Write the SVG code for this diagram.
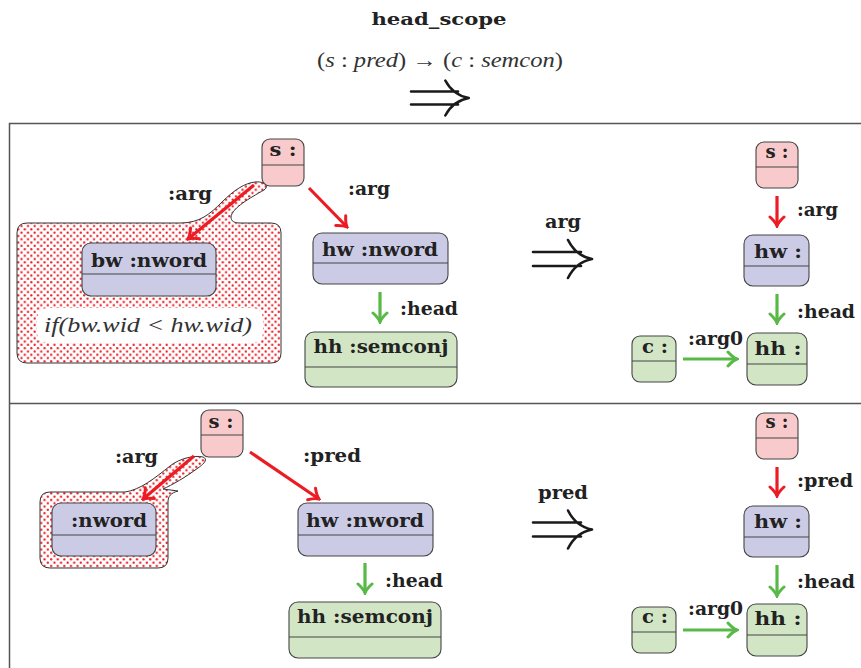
<svg xmlns="http://www.w3.org/2000/svg" width="861" height="668" viewBox="0 0 861 668">
<style>
.lbl{font-family:"DejaVu Serif","Liberation Serif",serif;font-weight:bold;font-size:19px;fill:#222}
.ttl{font-family:"DejaVu Serif","Liberation Serif",serif;font-weight:bold;font-size:17px;fill:#222}
.math{font-family:"Liberation Serif","DejaVu Serif",serif;font-size:20px;fill:#333}
.it{font-style:italic}
.dbl{fill:none;stroke:#1a1a1a;stroke-width:2.6;stroke-linecap:round}
.n{stroke:#444;stroke-width:1.1}
.pink{fill:#f9cacb}
.lav{fill:#cccbe6}
.grn{fill:#d2e6c6}
.div{stroke:#444;stroke-width:1.1}
.red{stroke:#ec1c24;stroke-width:3.2;fill:none}
.green{stroke:#58b947;stroke-width:3.2;fill:none}
.blob{fill:url(#dots);stroke:#333;stroke-width:1}
.frame{stroke:#555;stroke-width:1.5;fill:none}
</style>
<defs>
<pattern id="dots" width="6.6" height="6.6" patternUnits="userSpaceOnUse">
<rect width="6.6" height="6.6" fill="#fff"/>
<circle cx="1.65" cy="1.65" r="1.15" fill="#ec1c24"/>
<circle cx="4.95" cy="4.95" r="1.15" fill="#ec1c24"/>
</pattern>
<marker id="ar" viewBox="-12 -9 14 18" markerWidth="14" markerHeight="18" refX="0" refY="0" orient="auto" markerUnits="userSpaceOnUse">
<path d="M-9,-7 Q-4,-1.5 0,0 Q-4,1.5 -9,7" fill="none" stroke="#ec1c24" stroke-width="3" stroke-linecap="round"/>
</marker>
<marker id="ag" viewBox="-12 -9 14 18" markerWidth="14" markerHeight="18" refX="0" refY="0" orient="auto" markerUnits="userSpaceOnUse">
<path d="M-9,-7 Q-4,-1.5 0,0 Q-4,1.5 -9,7" fill="none" stroke="#58b947" stroke-width="3" stroke-linecap="round"/>
</marker>
<path id="dblarrow" d="M0,-7 H48 M0,7 H48 M35,-19 Q43,-3 59,0 M35,19 Q43,3 59,0"/>
</defs>

<g id="header">
<text class="ttl" x="439" y="25" text-anchor="middle" textLength="135" lengthAdjust="spacingAndGlyphs">head_scope</text>
<text class="math" x="440" y="67" text-anchor="middle" textLength="246" lengthAdjust="spacingAndGlyphs">(<tspan class="it">s</tspan> : <tspan class="it">pred</tspan>) → (<tspan class="it">c</tspan> : <tspan class="it">semcon</tspan>)</text>
<use href="#dblarrow" class="dbl" transform="translate(411,98) scale(0.98,0.92)"/>
</g>

<g id="frame">
<path class="frame" d="M861,123.5 H9.5 V668"/>
<line class="frame" x1="9.5" y1="403.5" x2="861" y2="403.5"/>
</g>

<!-- top panel -->
<g id="top-scope">
<path class="blob" d="M27,223 L180,223 C200,223 210,214 222,202 C234,190 245,183 255,182 C264,181 270,186 264,190 C250,198 232,208 231,217 C231,221 234,223 240,223 L271,223 Q281,223 281,233 L281,353 Q281,363 271,363 L27,363 Q17,363 17,353 L17,233 Q17,223 27,223 Z"/>
<rect x="37" y="308" width="226" height="35" rx="10" fill="#fff"/>
<text class="math it" x="148" y="332" text-anchor="middle" textLength="208" lengthAdjust="spacingAndGlyphs">if(bw.wid &lt; hw.wid)</text>
</g>
<g id="top-s">
<rect class="n pink" x="262" y="139" width="42" height="47" rx="8"/>
<line class="div" x1="262" y1="165" x2="304" y2="165"/>
<text class="lbl" x="283" y="156" text-anchor="middle" textLength="27" lengthAdjust="spacingAndGlyphs">s :</text>
</g>
<g id="top-bw">
<rect class="n lav" x="82" y="243" width="134" height="53" rx="9"/>
<line class="div" x1="82" y1="274" x2="216" y2="274"/>
<text class="lbl" x="149" y="267" text-anchor="middle" textLength="116" lengthAdjust="spacingAndGlyphs">bw :nword</text>
</g>
<g id="top-hw">
<rect class="n lav" x="313" y="233" width="135" height="51" rx="9"/>
<line class="div" x1="313" y1="263" x2="448" y2="263"/>
<text class="lbl" x="380" y="256" text-anchor="middle" textLength="116" lengthAdjust="spacingAndGlyphs">hw :nword</text>
</g>
<g id="top-hh">
<rect class="n grn" x="305" y="332" width="152" height="55" rx="9"/>
<line class="div" x1="305" y1="367" x2="457" y2="367"/>
<text class="lbl" x="381" y="353" text-anchor="middle" textLength="135" lengthAdjust="spacingAndGlyphs">hh :semconj</text>
</g>
<g id="top-rs">
<rect class="n pink" x="756" y="142" width="42" height="46" rx="8"/>
<line class="div" x1="756" y1="167" x2="798" y2="167"/>
<text class="lbl" x="777" y="158" text-anchor="middle" textLength="23" lengthAdjust="spacingAndGlyphs">s :</text>
</g>
<g id="top-rhw">
<rect class="n lav" x="744" y="235" width="65" height="51" rx="9"/>
<line class="div" x1="744" y1="266" x2="809" y2="266"/>
<text class="lbl" x="778" y="258" text-anchor="middle" textLength="48" lengthAdjust="spacingAndGlyphs">hw :</text>
</g>
<g id="top-rhh">
<rect class="n grn" x="747" y="333" width="60" height="52" rx="9"/>
<line class="div" x1="747" y1="364" x2="807" y2="364"/>
<text class="lbl" x="778" y="355" text-anchor="middle" textLength="47" lengthAdjust="spacingAndGlyphs">hh :</text>
</g>
<g id="top-rc">
<rect class="n grn" x="632" y="336" width="44" height="46" rx="8"/>
<line class="div" x1="632" y1="361" x2="676" y2="361"/>
<text class="lbl" x="655" y="353" text-anchor="middle" textLength="26" lengthAdjust="spacingAndGlyphs">c :</text>
</g>
<g id="top-rule">
<text class="lbl" x="563" y="228" text-anchor="middle" textLength="36" lengthAdjust="spacingAndGlyphs">arg</text>
<use href="#dblarrow" class="dbl" transform="translate(533,259)"/>
</g>

<!-- bottom panel -->
<g id="bot-scope">
<path class="blob" d="M50,492 L125,492 C140,490 155,478 170,466 C180,458 195,455 203,457 C208,459 205,463 198,468 C186,477 172,485 163,489 L178,491 C171,493 168,496 168,502 L168,558 Q168,568 158,568 L50,568 Q40,568 40,558 L40,502 Q40,492 50,492 Z"/>
</g>
<g id="bot-s">
<rect class="n pink" x="201" y="410" width="42" height="47" rx="8"/>
<line class="div" x1="201" y1="435" x2="243" y2="435"/>
<text class="lbl" x="221" y="428" text-anchor="middle" textLength="25" lengthAdjust="spacingAndGlyphs">s :</text>
</g>
<g id="bot-nw">
<rect class="n lav" x="52" y="503" width="104" height="53" rx="9"/>
<line class="div" x1="52" y1="535" x2="156" y2="535"/>
<text class="lbl" x="109" y="527" text-anchor="middle" textLength="76" lengthAdjust="spacingAndGlyphs">:nword</text>
</g>
<g id="bot-hw">
<rect class="n lav" x="298" y="503" width="135" height="53" rx="9"/>
<line class="div" x1="298" y1="535" x2="433" y2="535"/>
<text class="lbl" x="365" y="527" text-anchor="middle" textLength="118" lengthAdjust="spacingAndGlyphs">hw :nword</text>
</g>
<g id="bot-hh">
<rect class="n grn" x="289" y="602" width="152" height="56" rx="9"/>
<line class="div" x1="289" y1="637" x2="441" y2="637"/>
<text class="lbl" x="365" y="623" text-anchor="middle" textLength="136" lengthAdjust="spacingAndGlyphs">hh :semconj</text>
</g>
<g id="bot-rs">
<rect class="n pink" x="756" y="413" width="42" height="46" rx="8"/>
<line class="div" x1="756" y1="438" x2="798" y2="438"/>
<text class="lbl" x="777" y="428" text-anchor="middle" textLength="23" lengthAdjust="spacingAndGlyphs">s :</text>
</g>
<g id="bot-rhw">
<rect class="n lav" x="744" y="506" width="65" height="51" rx="9"/>
<line class="div" x1="744" y1="537" x2="809" y2="537"/>
<text class="lbl" x="778" y="528" text-anchor="middle" textLength="48" lengthAdjust="spacingAndGlyphs">hw :</text>
</g>
<g id="bot-rhh">
<rect class="n grn" x="747" y="604" width="60" height="52" rx="9"/>
<line class="div" x1="747" y1="635" x2="807" y2="635"/>
<text class="lbl" x="778" y="625" text-anchor="middle" textLength="47" lengthAdjust="spacingAndGlyphs">hh :</text>
</g>
<g id="bot-rc">
<rect class="n grn" x="632" y="607" width="44" height="46" rx="8"/>
<line class="div" x1="632" y1="632" x2="676" y2="632"/>
<text class="lbl" x="655" y="623" text-anchor="middle" textLength="26" lengthAdjust="spacingAndGlyphs">c :</text>
</g>
<g id="bot-rule">
<text class="lbl" x="563" y="499" text-anchor="middle" textLength="50" lengthAdjust="spacingAndGlyphs">pred</text>
<use href="#dblarrow" class="dbl" transform="translate(533,529.5)"/>
</g>

<g id="connectors">
<line class="red" x1="254" y1="185" x2="188" y2="239" marker-end="url(#ar)"/>
<line class="red" x1="309" y1="188" x2="347" y2="227" marker-end="url(#ar)"/>
<line class="green" x1="380" y1="292" x2="380" y2="322" marker-end="url(#ag)"/>
<line class="red" x1="777" y1="196" x2="777" y2="226" marker-end="url(#ar)"/>
<line class="green" x1="777" y1="294" x2="777" y2="323" marker-end="url(#ag)"/>
<line class="green" x1="683" y1="359" x2="737" y2="359" marker-end="url(#ag)"/>
<line class="red" x1="194" y1="456" x2="143" y2="499" marker-end="url(#ar)"/>
<line class="red" x1="250" y1="452" x2="319" y2="499" marker-end="url(#ar)"/>
<line class="green" x1="365" y1="563" x2="365" y2="593" marker-end="url(#ag)"/>
<line class="red" x1="777" y1="467" x2="777" y2="496" marker-end="url(#ar)"/>
<line class="green" x1="777" y1="565" x2="777" y2="596" marker-end="url(#ag)"/>
<line class="green" x1="683" y1="630" x2="737" y2="630" marker-end="url(#ag)"/>
<text class="lbl" x="168" y="200" textLength="44" lengthAdjust="spacingAndGlyphs">:arg</text>
<text class="lbl" x="348" y="195" textLength="42" lengthAdjust="spacingAndGlyphs">:arg</text>
<text class="lbl" x="400" y="315" textLength="58" lengthAdjust="spacingAndGlyphs">:head</text>
<text class="lbl" x="797" y="216" textLength="41" lengthAdjust="spacingAndGlyphs">:arg</text>
<text class="lbl" x="797" y="318" textLength="58" lengthAdjust="spacingAndGlyphs">:head</text>
<text class="lbl" x="688" y="345" textLength="55" lengthAdjust="spacingAndGlyphs">:arg0</text>
<text class="lbl" x="115" y="463" textLength="43" lengthAdjust="spacingAndGlyphs">:arg</text>
<text class="lbl" x="303" y="462" textLength="58" lengthAdjust="spacingAndGlyphs">:pred</text>
<text class="lbl" x="385" y="587" textLength="58" lengthAdjust="spacingAndGlyphs">:head</text>
<text class="lbl" x="797" y="487" textLength="56" lengthAdjust="spacingAndGlyphs">:pred</text>
<text class="lbl" x="797" y="588" textLength="58" lengthAdjust="spacingAndGlyphs">:head</text>
<text class="lbl" x="688" y="615" textLength="55" lengthAdjust="spacingAndGlyphs">:arg0</text>
</g>
</svg>
